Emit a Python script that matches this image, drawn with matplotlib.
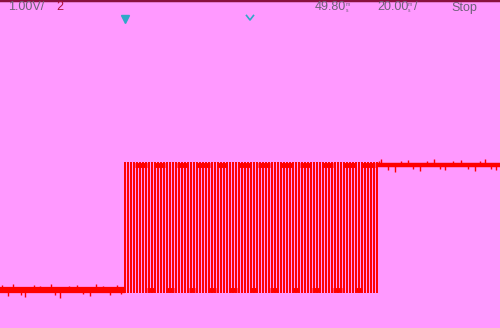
import matplotlib.pyplot as plt
import matplotlib.transforms as mtransforms

# Einstellungen wie am Oszilloskop
volt_div = "1.00V/"
kanal = "2"
delay_text = "49.80"
zeitbasis = "20.00"
status = "Stop"

# Signalpegel (V) und Zeitbereich (µs)
low_level = 0.0
high_level = 2.5
t_start = 0.0
t_end = 200.0
burst_start = 50.0
burst_end = 150.8
trigger_t = 50.0
center_t = 100.0

# Flanken im Burst (µs)
edges = [50.0, 51.2, 52.4, 53.6, 54.8, 56.0, 57.2, 58.4, 59.6, 60.8,
         62.0, 63.2, 64.4, 65.6, 66.8, 68.0, 69.2, 70.4, 71.6, 72.8,
         74.0, 75.2, 76.4, 77.6, 78.8, 80.0, 81.2, 82.4, 83.6, 84.8,
         86.0, 87.2, 88.4, 89.6, 90.8, 92.0, 93.2, 94.4, 95.6, 96.8,
         98.0, 99.2, 100.4, 101.6, 102.8, 104.0, 105.2, 106.4, 107.6, 108.8,
         110.0, 111.2, 112.4, 113.6, 114.8, 116.0, 117.2, 118.4, 119.6, 120.8,
         122.0, 123.2, 124.4, 125.6, 126.8, 128.0, 129.2, 130.4, 131.6, 132.8,
         134.0, 135.2, 136.4, 137.6, 138.8, 140.0, 141.2, 142.4, 143.6, 144.8,
         146.0, 147.2, 148.4, 149.6, 150.8]

# längere High-Abschnitte im Burst (µs)
high_starts = [54.0, 62.0, 70.8, 78.8, 87.2, 95.2, 103.2, 112.0, 120.0, 128.8, 137.2, 144.8]
high_ends = [58.8, 66.0, 74.8, 84.0, 90.8, 100.0, 108.0, 116.8, 124.0, 133.2, 142.0, 150.0]

# längere Low-Abschnitte im Burst (µs)
low_starts = [58.8, 66.8, 75.6, 83.6, 91.6, 100.0, 108.0, 116.8, 124.8, 133.2, 142.0]
low_ends = [61.6, 69.6, 78.0, 86.4, 94.8, 102.8, 111.2, 119.2, 128.0, 136.8, 144.8]

# Rauschspitzen (µs, V)
low_spike_t = [0.8, 3.2, 5.2, 8.4, 10.0, 13.6, 16.0, 20.4, 22.0, 24.0, 27.6,
               30.8, 33.2, 36.0, 38.4, 41.2, 44.0, 46.8, 48.4]
low_spike_v = [0.1, -0.12, 0.12, -0.1, -0.14, 0.1, 0.08, 0.12, -0.1, -0.16, 0.08,
               0.1, -0.08, -0.12, 0.12, 0.08, -0.1, 0.1, -0.08]
high_spike_t = [151.6, 152.4, 155.2, 158.0, 160.4, 163.2, 165.2, 168.0, 170.8, 173.6,
                176.0, 178.0, 181.2, 184.4, 187.2, 190.0, 192.0, 194.0, 196.4, 198.4]
high_spike_v = [2.58, 2.62, 2.4, 2.36, 2.58, 2.6, 2.42, 2.38, 2.58, 2.62, 2.42,
                2.4, 2.58, 2.6, 2.42, 2.38, 2.58, 2.62, 2.42, 2.4]

bg = "#ff99ff"
sig = "#ff0000"

fig = plt.figure(figsize=(5, 3.28), dpi=100)
fig.patch.set_facecolor(bg)
ax = fig.add_axes([0, 0, 1, 1])
ax.set_facecolor(bg)
ax.set_xlim(t_start, t_end)
ax.set_ylim(-0.76, 5.8)
ax.axis("off")

# Pegel vor und nach dem Burst
ax.plot([t_start, burst_start], [low_level, low_level], color=sig, lw=4.5, solid_capstyle="butt")
ax.plot([burst_end, t_end], [high_level, high_level], color=sig, lw=3.2, solid_capstyle="butt")

# Burst
ax.vlines(edges, low_level - 0.06, high_level + 0.06, color=sig, lw=1.4)
ax.hlines([high_level] * len(high_starts), high_starts, high_ends, color=sig, lw=3.5)
ax.hlines([low_level] * len(low_starts), low_starts, low_ends, color=sig, lw=3.5)

# Rauschen
ax.vlines(low_spike_t, low_level, low_spike_v, color=sig, lw=1)
ax.vlines(high_spike_t, high_level, high_spike_v, color=sig, lw=1)

# Rahmenlinie oben
ax.axhline(5.8, color="#8a1040", lw=2.5)

# Trigger-Markierungen
trans = mtransforms.blended_transform_factory(ax.transData, ax.transAxes)
ax.plot([trigger_t], [1 - 19 / 328], marker="v", markersize=6, color="#2fa8c8",
        transform=trans, clip_on=False)
ax.plot([center_t - 1.4, center_t, center_t + 1.4],
        [1 - 15.5 / 328, 1 - 20 / 328, 1 - 15.5 / 328],
        color="#2fa8c8", lw=1.2, transform=trans)

fam = ["Liberation Sans", "DejaVu Sans"]
txt_col = "#6e5f78"
fs = 9
fig.text(8 / 500, 1 - 7.5 / 328, volt_div, color=txt_col, fontsize=fs, family=fam, va="center")
fig.text(56 / 500, 1 - 7.5 / 328, kanal, color="#b0103a", fontsize=fs, family=fam, va="center")
fig.text(315 / 500, 1 - 7.5 / 328, delay_text, color=txt_col, fontsize=fs, family=fam, va="center")
fig.text(346 / 500, 1 - 4.5 / 328, "m", color=txt_col, fontsize=3.5, family=fam, va="center")
fig.text(346 / 500, 1 - 10 / 328, "s", color=txt_col, fontsize=3.5, family=fam, va="center")
fig.text(377 / 500, 1 - 7.5 / 328, zeitbasis, color=txt_col, fontsize=fs, family=fam, va="center")
fig.text(408 / 500, 1 - 4.5 / 328, "m", color=txt_col, fontsize=3.5, family=fam, va="center")
fig.text(408 / 500, 1 - 10 / 328, "s", color=txt_col, fontsize=3.5, family=fam, va="center")
fig.text(414 / 500, 1 - 7.5 / 328, "/", color=txt_col, fontsize=fs, family=fam, va="center")
fig.text(451 / 500, 1 - 7.5 / 328, status, color=txt_col, fontsize=fs, family=fam, va="center")

fig.savefig("out.png", dpi=100, facecolor=bg)
